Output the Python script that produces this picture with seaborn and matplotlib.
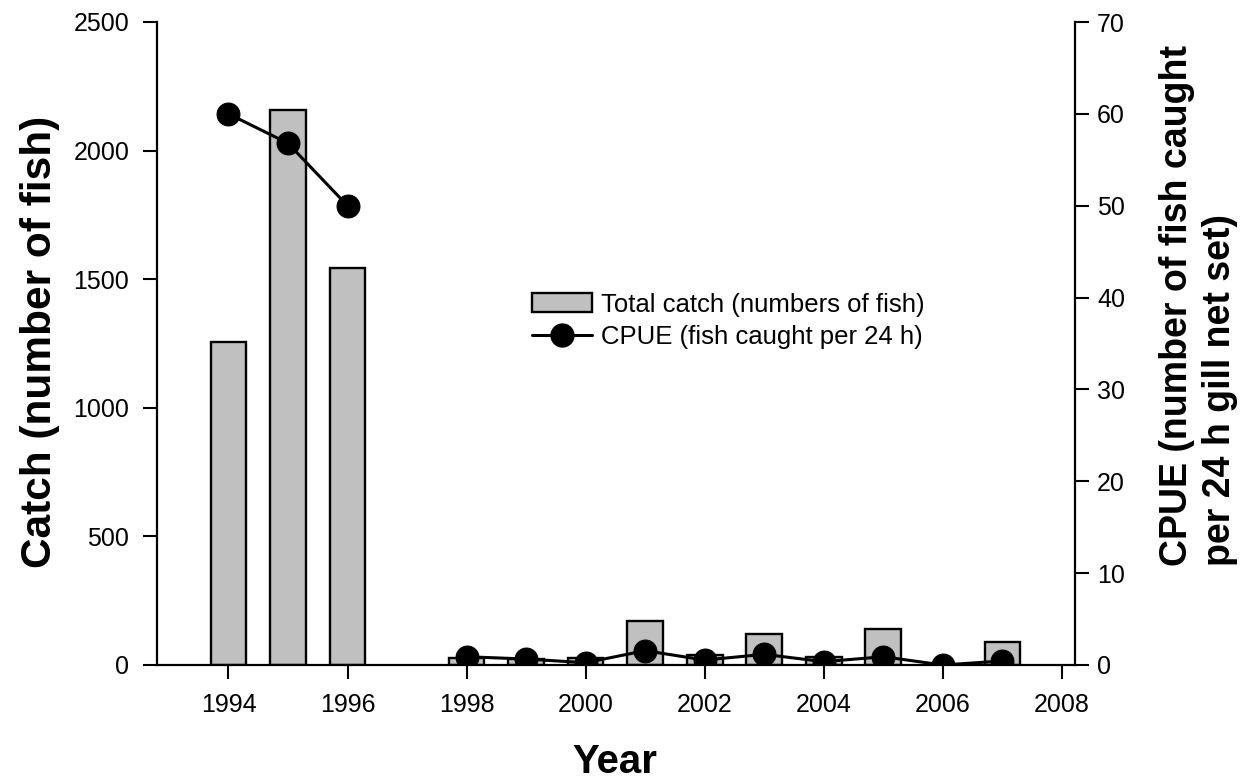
import matplotlib
matplotlib.use("Agg")
import matplotlib.pyplot as plt
from matplotlib.patches import Patch
from matplotlib.lines import Line2D
import seaborn as sns
import pandas as pd
import numpy as np

# ---- data ----
years = [1994, 1995, 1996, 1998, 1999, 2000, 2001, 2002, 2003, 2004, 2005, 2006, 2007]
catch = [1255, 2158, 1545, 26, 23, 28, 171, 39, 121, 32, 139, 0, 91]
cpue = [60.0, 56.8, 50.0, 0.9, 0.65, 0.25, 1.56, 0.54, 1.16, 0.36, 0.9, 0.0, 0.44]
segment = [0, 0, 0, 1, 1, 1, 1, 1, 1, 1, 1, 1, 1]
xticks = [1994, 1996, 1998, 2000, 2002, 2004, 2006, 2008]
left_ticks = [0, 500, 1000, 1500, 2000, 2500]
right_ticks = [0, 10, 20, 30, 40, 50, 60, 70]
legend_labels = ["Total catch (numbers of fish)", "CPUE (fish caught per 24 h)"]

df = pd.DataFrame({"year": years, "catch": catch, "cpue": cpue, "segment": segment})

sns.set_theme(style="ticks")
plt.rcParams["font.family"] = ["Liberation Sans", "DejaVu Sans"]
plt.rcParams["text.color"] = "black"
plt.rcParams["axes.labelcolor"] = "black"
plt.rcParams["xtick.color"] = "black"
plt.rcParams["ytick.color"] = "black"
plt.rcParams["axes.edgecolor"] = "black"

W, H = 1252, 782
fig = plt.figure(figsize=(W / 100, H / 100), dpi=100)
L, R, T, B = 157, 1075, 22, 665
ax = fig.add_axes([L / W, 1 - B / H, (R - L) / W, (B - T) / H])

sns.barplot(data=df, x="year", y="catch", native_scale=True, width=0.6,
            color="#c0c0c0", saturation=1, edgecolor="black", linewidth=1.7, ax=ax)

ax2 = ax.twinx()
sns.lineplot(data=df, x="year", y="cpue", units="segment", estimator=None,
             color="black", linewidth=2.2, marker="o", markersize=16.5,
             markeredgecolor="black", ax=ax2)

ax.set_xlim(1992.8, 2008.22)
ax.set_ylim(0, 2500)
ax2.set_ylim(0, 70)
ax.set_xticks(xticks)
ax.set_xticklabels([str(x) for x in xticks])
ax.set_yticks(left_ticks)
ax2.set_yticks(right_ticks)

for a in (ax, ax2):
    a.spines["top"].set_visible(False)
    for s in a.spines.values():
        s.set_linewidth(1.6)
        s.set_color("black")
ax.spines["right"].set_visible(False)
ax2.spines["left"].set_visible(False)
ax2.spines["bottom"].set_visible(False)

ax.tick_params(axis="x", direction="out", length=10, width=1.5, pad=10, labelsize=18, colors="black")
ax.tick_params(axis="y", direction="out", length=10, width=1.5, pad=10, labelsize=18, colors="black")
ax2.tick_params(axis="y", direction="out", length=10, width=1.5, pad=6, labelsize=18, colors="black")
ax.grid(False)
ax2.grid(False)

ax.set_xlabel("Year", fontsize=29, fontweight="bold", va="center", color="black")
ax.xaxis.set_label_coords((615 - L) / (R - L), (B - 762) / (B - T))
ax.set_ylabel("Catch (number of fish)", fontsize=30.5, fontweight="bold",
              va="center", ha="center", rotation=90, color="black")
ax.yaxis.set_label_coords((40 - L) / (R - L), (B - 342) / (B - T))
ax2.set_ylabel("CPUE (number of fish caught\nper 24 h gill net set)", fontsize=27,
               fontweight="bold", va="center", ha="center", rotation=90,
               multialignment="left", linespacing=1.25, color="black")
ax2.yaxis.set_label_coords((1199 - L) / (R - L), (B - 306) / (B - T))

handles = [Patch(facecolor="#c0c0c0", edgecolor="black", linewidth=1.7),
           Line2D([], [], color="black", linewidth=2.2, marker="o", markersize=16.5)]
leg = ax2.legend(handles, legend_labels, loc="center left",
                 bbox_to_anchor=(532 / W, 1 - 321 / H), bbox_transform=fig.transFigure,
                 frameon=False, fontsize=18.5, handlelength=2.35, handleheight=0.75,
                 handletextpad=0.35, labelspacing=0.35, borderpad=0, borderaxespad=0)
for t in leg.get_texts():
    t.set_color("black")

fig.savefig("out.png", dpi=100)
